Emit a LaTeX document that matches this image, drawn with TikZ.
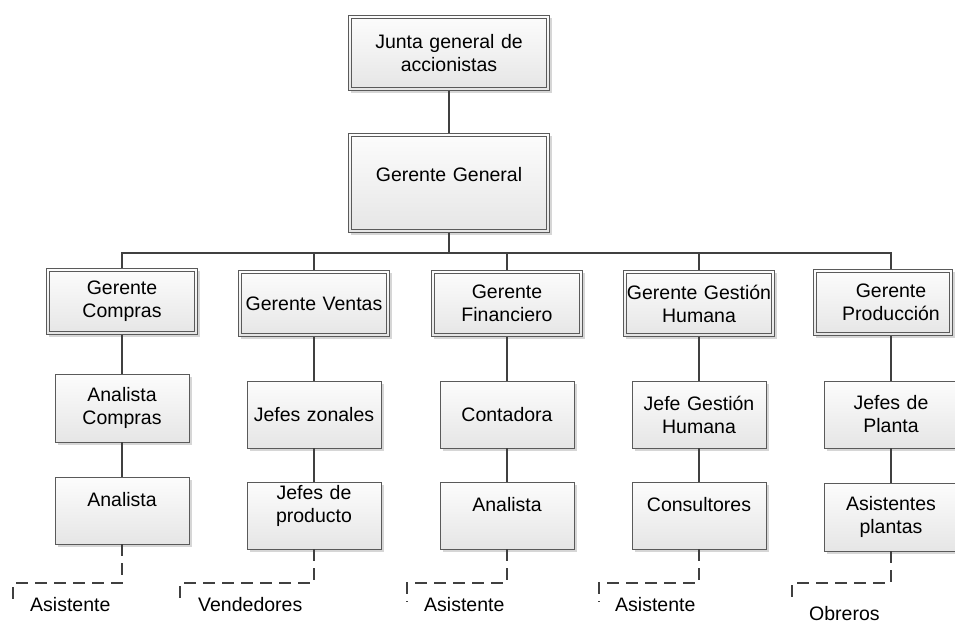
\documentclass[tikz,border=0pt]{standalone}
\usepackage{fontspec}
\setmainfont{Liberation Sans}
\usetikzlibrary{shadows}
\definecolor{edgegray}{HTML}{5A5A5A}
\definecolor{wiregray}{HTML}{404040}
\newcommand\orgfont{\fontsize{19.5}{23}\selectfont}
\tikzset{
  unit/.style={draw=edgegray, line width=0.8pt,
    top color=black!1, bottom color=black!10,
    drop shadow={shadow xshift=2.5pt, shadow yshift=-2.5pt, fill=black, opacity=0.16},
    font=\orgfont, align=center, inner sep=0pt,
    minimum width=134pt, minimum height=67pt, text width=130pt},
  head/.style={unit, minimum width=151pt, minimum height=66pt, text width=146pt,
    path picture={\draw[edgegray, line width=0.7pt]
      ([shift={(3pt,3pt)}]path picture bounding box.south west) rectangle
      ([shift={(-3pt,-3pt)}]path picture bounding box.north east);}},
  wire/.style={draw=wiregray, line width=1.6pt},
  dashwire/.style={wire, dash pattern=on 12pt off 7pt},
  tag/.style={font=\orgfont, inner sep=0pt, anchor=west}
}
\begin{document}
\begin{tikzpicture}[x=1pt, y=-1pt]
\useasboundingbox (0,0) rectangle (955,625);
\clip (0,0) rectangle (955,625);

% board and general manager
\node[head, minimum width=201pt, minimum height=75pt, text width=190pt] (junta) at (449,53) {Junta general de\\accionistas};
\node[head, minimum width=201pt, minimum height=99pt, text width=190pt] (gg) at (449,183) {Gerente General\\[-5pt]\mbox{}};

% department managers
\node[head] (compras) at (122,301.5) {Gerente\\Compras};
\node[head] (ventas)  at (314,303.5) {Gerente Ventas};
\node[head] (fin)     at (507,303.5) {Gerente\\Financiero};
\node[head] (gh)      at (699,303.5) {Gerente Gesti\'on\\Humana};
% narrower box whose text sits over the column line
\node[head, minimum width=139pt, text width=134pt] (prod) at (883,302.5)
  {\hspace*{16pt}Gerente\\\hspace*{16pt}Producci\'on};

% third level
\node[unit, minimum height=68pt] (anacomp) at (122,408) {Analista\\Compras};
\node[unit] (zonales)  at (314,414.5) {Jefes zonales};
\node[unit] (conta)    at (507,414.5) {Contadora};
\node[unit] (jgh)      at (699,414.5) {Jefe Gesti\'on\\Humana};
\node[unit] (planta)   at (891,414.5) {Jefes de\\Planta};

% fourth level
\node[unit] (ana1)     at (122,510.5) {Analista\\\mbox{}};
\node[unit] (producto) at (314,515.5) {Jefes de\\producto\\\mbox{}};
\node[unit] (ana2)     at (507,515.5) {Analista\\\mbox{}};
\node[unit] (consul)   at (699,515.5) {Consultores\\\mbox{}};
\node[unit, minimum height=68pt] (asplan) at (891,517) {Asistentes\\plantas};

% fifth level labels
\node[tag] (asis1) at (30,605)  {Asistente};
\node[tag] (vend)  at (198,605) {Vendedores};
\node[tag] (asis2) at (424,605) {Asistente};
\node[tag] (asis3) at (615,605) {Asistente};
\node[tag] (obre)  at (809,614) {Obreros};

% solid connectors
\coordinate (bus) at (449,253);
\draw[wire] (junta.south) -- (gg.north);
\foreach \n in {compras,ventas,fin,gh}
  \draw[wire] (gg.south) -- (bus) -| (\n.north);
\draw[wire] (gg.south) -- (bus) -| ([xshift=8pt]prod.north);
\draw[wire] (compras.south) -- (anacomp.north);
\draw[wire] (anacomp.south) -- (ana1.north);
\draw[wire] (ventas.south) -- (zonales.north);
\draw[wire] (zonales.south) -- (producto.north);
\draw[wire] (fin.south) -- (conta.north);
\draw[wire] (conta.south) -- (ana2.north);
\draw[wire] (gh.south) -- (jgh.north);
\draw[wire] (jgh.south) -- (consul.north);
\draw[wire] ([xshift=8pt]prod.south) -- (planta.north);
\draw[wire] (planta.south) -- (asplan.north);

% dashed connectors to the lowest level
\coordinate (e1) at (122,583); \coordinate (k1) at (13,602);
\coordinate (e2) at (314,583); \coordinate (k2) at (180,602);
\coordinate (e3) at (507,583); \coordinate (k3) at (407,602);
\coordinate (e4) at (699,583); \coordinate (k4) at (599,602);
\coordinate (e5) at (891,583); \coordinate (k5) at (792,602);
\draw[dashwire] (ana1.south) -- (e1) -| (k1);
\draw[dashwire] (producto.south) -- (e2) -| (k2);
\draw[dashwire] (ana2.south) -- (e3) -| (k3);
\draw[dashwire] (consul.south) -- (e4) -| (k4);
\draw[dashwire] (asplan.south) -- (e5) -| (k5);
\end{tikzpicture}
\end{document}
